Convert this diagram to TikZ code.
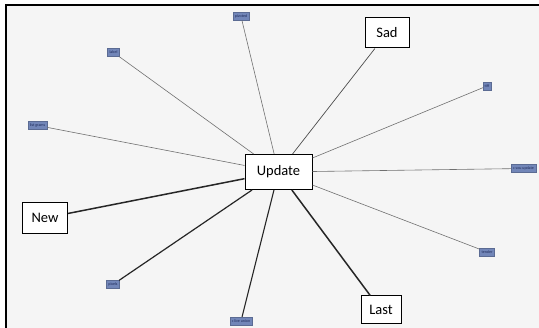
\documentclass[tikz,border=0pt]{standalone}
\usepackage{fontspec}
\setmainfont{Carlito}
\definecolor{canvas}{HTML}{F5F5F5}
\definecolor{tagfill}{HTML}{7286B8}
\definecolor{tagtext}{HTML}{1E2A5A}
\definecolor{spoke}{HTML}{707070}
\begin{document}
\begin{tikzpicture}[x=1pt,y=-1pt,
  term/.style={draw=black,line width=1pt,fill=white,inner sep=0pt,font=\fontsize{14.5}{14.5}\selectfont},
  tag/.style={fill=tagfill,draw=tagfill!80!black,line width=0.3pt,inner xsep=2pt,inner ysep=0pt,
    minimum height=8pt,text=tagtext,font=\fontsize{4}{4}\selectfont},
  thin/.style={draw=spoke,line width=0.6pt},
  heavy/.style={draw=black!85,line width=1.5pt}]
\useasboundingbox (0,0) rectangle (539,328);
\fill[white] (0,0) rectangle (539,328);
\fill[canvas] (6,5) rectangle (539,328);
\draw[line width=2pt] (6,328) -- (6,5) -- (539,5);

% central term and the four framed terms
\node[term,minimum width=67pt,minimum height=35pt] (upd) at (278.5,172) {Update};
\node[term,minimum width=44pt,minimum height=30pt] (sad) at (387,33) {Sad};
\node[term,minimum width=45pt,minimum height=31pt] (new) at (45,218) {New};
\node[term,minimum width=40pt,minimum height=28pt] (last) at (381,310) {Last};

% small tagged terms
\node[tag] (piv) at (241,16.5) {pivoted};
\node[tag] (lab) at (113.5,52.5) {label};
\node[tag] (lst) at (37.5,125.5) {list grams};
\node[tag,minimum width=8pt,inner xsep=0.5pt] (tif) at (487,86) {tiff};
\node[tag,anchor=west] (sou) at (511,168.5) {c sou update};
\node[tag] (ten) at (487,252) {tender};
\node[tag] (pix) at (113,284.5) {pixels};
\node[tag] (liv) at (241,321) {c live union};

% spokes
\draw[thin] (piv) -- (upd);
\draw[thin] (lab) -- (upd);
\draw[thin] (lst) -- (upd);
\draw[thin] (tif) -- (upd);
\draw[thin] (sou) -- (upd);
\draw[thin] (ten) -- (upd);
\draw[thin,draw=black!70,line width=0.7pt] (sad) -- (upd);
\draw[heavy] (new) -- (upd);
\draw[heavy] (last) -- (upd);
\draw[heavy,line width=1.2pt] (pix) -- (upd);
\draw[heavy,line width=1.1pt] (liv) -- (upd);
\end{tikzpicture}
\end{document}
